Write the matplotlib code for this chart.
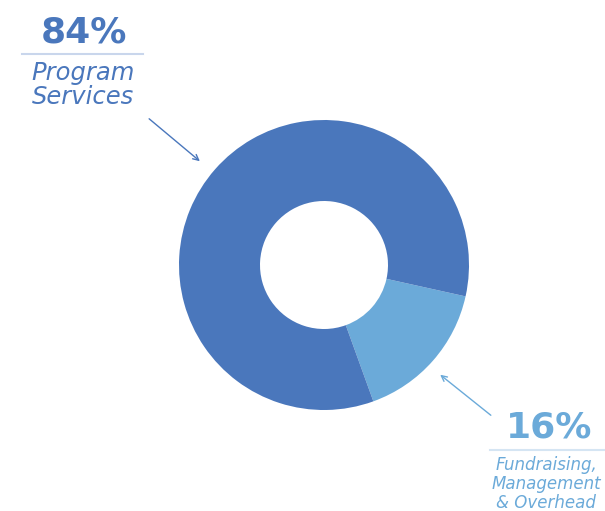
import matplotlib.pyplot as plt
from matplotlib.patches import FancyArrowPatch

# data
labels = ["Fundraising,\nManagement\n& Overhead", "Program\nServices"]
values = [16, 84]
pct_labels = ["16%", "84%"]
colors = ["#6BAAD9", "#4A77BC"]

H = 511
fig = plt.figure(figsize=(6.05, 5.11), dpi=100)
ax = fig.add_axes([0, 0, 1, 1])

ax.pie(values, colors=colors, startangle=-12.5, counterclock=False,
       center=(324, H - 265), radius=145, frame=True,
       wedgeprops=dict(width=81, linewidth=0))
ax.set_xlim(0, 605)
ax.set_ylim(0, H)
ax.axis("off")

font = "DejaVu Sans"

# 84% label (top left)
ax.text(84, H - 32, pct_labels[1], ha="center", va="center", fontsize=26,
        fontweight="bold", color=colors[1], family=font)
ax.plot([22, 143], [H - 54, H - 54], color="#C9D6EC", lw=1.5)
ax.text(83, H - 85, labels[1], ha="center", va="center", fontsize=17.5,
        style="italic", color=colors[1], family=font, linespacing=1.0)
ax.add_patch(FancyArrowPatch((147, H - 117), (202, H - 163), arrowstyle="->",
                             mutation_scale=10, color=colors[1], lw=1))

# 16% label (bottom right)
ax.text(549, H - 427, pct_labels[0], ha="center", va="center", fontsize=26,
        fontweight="bold", color=colors[0], family=font)
ax.plot([490, 605], [H - 450, H - 450], color="#D5E5F3", lw=1.5)
ax.text(546, H - 484, labels[0], ha="center", va="center", fontsize=12,
        style="italic", color=colors[0], family=font, linespacing=1.1)
ax.add_patch(FancyArrowPatch((493, H - 417), (438, H - 373), arrowstyle="->",
                             mutation_scale=10, color=colors[0], lw=1))

fig.savefig("out.png", dpi=100)
